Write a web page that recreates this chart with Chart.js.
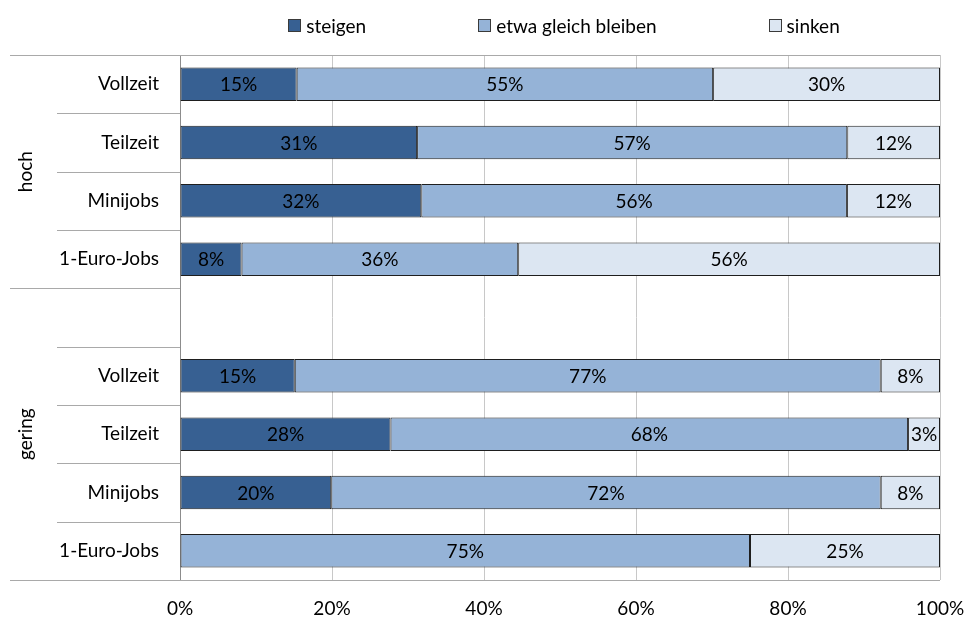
<!DOCTYPE html>
<html>
<head>
<meta charset="utf-8">
<script src="https://cdn.jsdelivr.net/npm/chart.js@4/dist/chart.umd.min.js"></script>
<style>
html,body{margin:0;padding:0;background:#fff;}
#wrap{position:relative;width:967px;height:619px;overflow:hidden;}
#legend{position:absolute;top:13px;left:184px;width:760px;height:24px;display:flex;justify-content:center;align-items:center;font-family:Lato,"Noto Sans",sans-serif;font-size:19px;color:#000;}
.item{display:flex;align-items:center;white-space:nowrap;}
.item + .item{margin-left:112px;}
.box{width:11px;height:11px;border:1px solid #3a3a3a;margin-right:5px;}
</style>
</head>
<body>
<div id="wrap">
<canvas id="c" width="967" height="619"></canvas>
<div id="legend"></div>
</div>
<script>
// ---- data ----
const categories = ['Vollzeit', 'Teilzeit', 'Minijobs', '1-Euro-Jobs', '', 'Vollzeit', 'Teilzeit', 'Minijobs', '1-Euro-Jobs'];
const groupLabels = ['hoch', 'gering'];
const groupStarts = [0, 4];
const groupEnds = [3, 8];
const seriesNames = ['steigen', 'etwa gleich bleiben', 'sinken'];
const steigen = [15.35, 31.2, 31.75, 8.1, null, 15.1, 27.7, 19.9, null];
const gleich  = [54.8, 56.6, 56.0, 36.4, null, 77.1, 68.1, 72.3, 75.0];
const sinken  = [29.85, 12.2, 12.25, 55.5, null, 7.8, 4.2, 7.8, 25.0];
const steigenLabels = ['15%', '31%', '32%', '8%', '', '15%', '28%', '20%', ''];
const gleichLabels  = ['55%', '57%', '56%', '36%', '', '77%', '68%', '72%', '75%'];
const sinkenLabels  = ['30%', '12%', '12%', '56%', '', '8%', '3%', '8%', '25%'];
const xTickValues = [0, 20, 40, 60, 80, 100];

const colors = ['#376092', '#95B3D7', '#DCE6F2'];
const seriesValues = [steigen, gleich, sinken];
const seriesLabels = [steigenLabels, gleichLabels, sinkenLabels];
const FONT = 'Lato, "Noto Sans", sans-serif';
const FSIZE = 19;

// ---- legend (HTML) ----
const lg = document.getElementById('legend');
seriesNames.forEach((n, i) => {
  const it = document.createElement('div'); it.className = 'item';
  const b = document.createElement('span'); b.className = 'box'; b.style.background = colors[i];
  const t = document.createElement('span'); t.textContent = n;
  it.appendChild(b); it.appendChild(t); lg.appendChild(it);
});

// ---- plugins ----
const groupPlugin = {
  id: 'groups',
  afterDraw(chart) {
    const ctx = chart.ctx, y = chart.scales.y, ca = chart.chartArea;
    const n = categories.length;
    const half = (y.getPixelForValue(1) - y.getPixelForValue(0)) / 2;
    const edge = k => k < n ? y.getPixelForValue(k) - half : y.getPixelForValue(n - 1) + half;
    ctx.save();
    ctx.strokeStyle = '#a9a9a9';
    ctx.lineWidth = 1;
    for (let k = 0; k <= n; k++) {
      const isOuter = (k === 0 || k === n);
      const isGroup = isOuter || groupStarts.includes(k);
      const x0 = isGroup ? 10 : 57;
      const x1 = isOuter ? ca.right : ca.left;
      const py = Math.round(edge(k)) + 0.5;
      ctx.beginPath(); ctx.moveTo(x0, py); ctx.lineTo(x1, py); ctx.stroke();
    }
    ctx.fillStyle = '#000';
    ctx.font = FSIZE + 'px ' + FONT;
    ctx.textAlign = 'center';
    ctx.textBaseline = 'middle';
    groupLabels.forEach((g, i) => {
      const cy = (edge(groupStarts[i]) + edge(groupEnds[i] + 1)) / 2;
      ctx.save();
      ctx.translate(26, cy);
      ctx.rotate(-Math.PI / 2);
      ctx.fillText(g, 0, 0);
      ctx.restore();
    });
    ctx.restore();
  }
};

const labelPlugin = {
  id: 'barLabels',
  afterDatasetsDraw(chart) {
    const ctx = chart.ctx;
    ctx.save();
    ctx.fillStyle = '#000';
    ctx.font = FSIZE + 'px ' + FONT;
    ctx.textAlign = 'center';
    ctx.textBaseline = 'middle';
    chart.data.datasets.forEach((ds, i) => {
      const meta = chart.getDatasetMeta(i);
      meta.data.forEach((el, j) => {
        const t = seriesLabels[i][j];
        if (!t || ds.data[j] == null) return;
        const p = el.getProps(['x', 'base', 'y'], true);
        ctx.fillText(t, (p.x + p.base) / 2, p.y + 1);
      });
    });
    ctx.restore();
  }
};

// ---- chart ----
new Chart(document.getElementById('c'), {
  type: 'bar',
  data: {
    labels: categories,
    datasets: seriesNames.map((n, i) => ({
      label: n,
      data: seriesValues[i],
      backgroundColor: colors[i],
      borderColor: '#1e1e1e',
      borderWidth: 1,
      borderSkipped: false,
      categoryPercentage: 1.0,
      barPercentage: 0.573
    }))
  },
  options: {
    responsive: false,
    animation: false,
    indexAxis: 'y',
    layout: { padding: { left: 10, right: 27, top: 55, bottom: 0 } },
    plugins: { legend: { display: false }, tooltip: { enabled: false } },
    scales: {
      x: {
        stacked: true,
        min: 0, max: 100,
        afterBuildTicks: s => { s.ticks = xTickValues.map(v => ({ value: v })); },
        afterFit: s => { s.height = 39; s.paddingLeft = 0; s.paddingRight = 0; },
        ticks: { callback: v => v + '%', font: { family: FONT, size: FSIZE }, color: '#000', padding: 17, maxRotation: 0 },
        grid: { color: '#c8c8c8', drawTicks: false, lineWidth: 1 },
        border: { display: false }
      },
      y: {
        stacked: true,
        afterFit: s => { s.width = 170; },
        ticks: { font: { family: FONT, size: FSIZE }, color: '#000', padding: 21, autoSkip: false },
        grid: { display: false, drawTicks: false },
        border: { display: true, color: '#8c8c8c' }
      }
    }
  },
  plugins: [groupPlugin, labelPlugin]
});
</script>
</body>
</html>
